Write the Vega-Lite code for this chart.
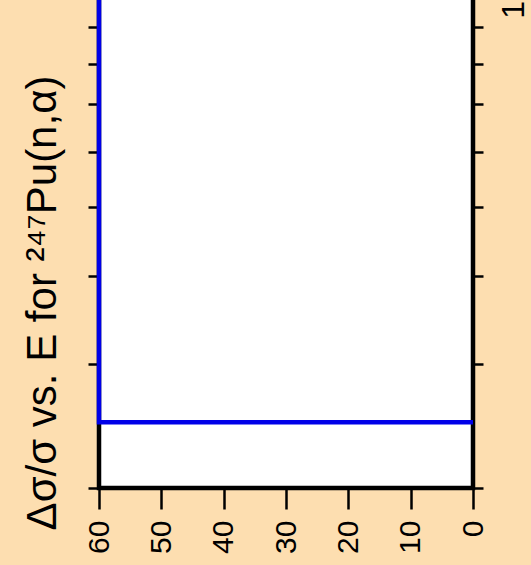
{
  "$schema": "https://vega.github.io/schema/vega-lite/v6.json",
  "autosize": {"type": "none"},
  "padding": {"left": 99, "top": -217, "right": 58, "bottom": 77},
  "width": 374,
  "height": 705,
  "background": "#FDDEB0",
  "config": {
    "view": {"fill": "white", "stroke": "black", "strokeWidth": 4.5},
    "font": "Liberation Sans"
  },
  "data": {
    "values": [
      {"order": 1, "rel_unc": 60, "energy": 20},
      {"order": 2, "rel_unc": 60, "energy": 2.48},
      {"order": 3, "rel_unc": 0, "energy": 2.48}
    ]
  },
  "layer": [
    {
      "mark": {"type": "line", "color": "#0000E8", "strokeWidth": 4.5, "strokeCap": "butt", "strokeJoin": "miter", "clip": false},
      "encoding": {
        "x": {
          "field": "rel_unc", "type": "quantitative",
          "scale": {"domain": [0, 60], "reverse": true, "nice": false, "zero": false},
          "axis": {
            "values": [0, 10, 20, 30, 40, 50, 60],
            "labelAngle": -90, "labelFontSize": 30, "labelColor": "black", "labelFont": "Liberation Sans",
            "labelAlign": "right", "labelBaseline": "middle", "labelPadding": 11,
            "labelFlush": false, "labelOverlap": false,
            "tickColor": "black", "tickSize": 21, "tickWidth": 2.5,
            "domain": false, "grid": false, "title": null
          }
        },
        "y": {
          "field": "energy", "type": "quantitative",
          "scale": {"type": "log", "domain": [2, 20], "nice": false},
          "axis": {
            "orient": "left",
            "values": [2, 3, 4, 5, 6, 7, 8, 9, 10, 20],
            "labels": false,
            "tickSize": 11, "tickWidth": 2.5, "tickColor": "black",
            "domain": false, "grid": false,
            "title": "Δσ/σ vs. E for ²⁴⁷Pu(n,α)",
            "titleFont": "Liberation Sans", "titleFontSize": 42, "titleFontWeight": "normal", "titleColor": "black",
            "titleAngle": 270, "titleAlign": "center", "titleBaseline": "alphabetic",
            "titleX": -44, "titleY": 519.5
          }
        },
        "order": {"field": "order", "type": "quantitative"}
      }
    },
    {
      "mark": {"type": "line", "strokeOpacity": 0},
      "encoding": {
        "x": {"field": "rel_unc", "type": "quantitative"},
        "y": {
          "field": "energy", "type": "quantitative",
          "axis": {
            "orient": "right",
            "values": [2, 3, 4, 5, 6, 7, 8, 9, 10, 20],
            "labelExpr": "datum.value == 10 ? '10¹' : ''",
            "labelAngle": -90, "labelFontSize": 32, "labelColor": "black", "labelFont": "Liberation Sans",
            "labelAlign": "center", "labelBaseline": "top", "labelPadding": 15, "labelOffset": 0,
            "labelOverlap": false, "labelFlush": false,
            "tickSize": 10, "tickWidth": 2.5, "tickColor": "black",
            "domain": false, "grid": false, "title": null
          }
        },
        "order": {"field": "order", "type": "quantitative"}
      }
    }
  ],
  "resolve": {"axis": {"y": "independent"}}
}
